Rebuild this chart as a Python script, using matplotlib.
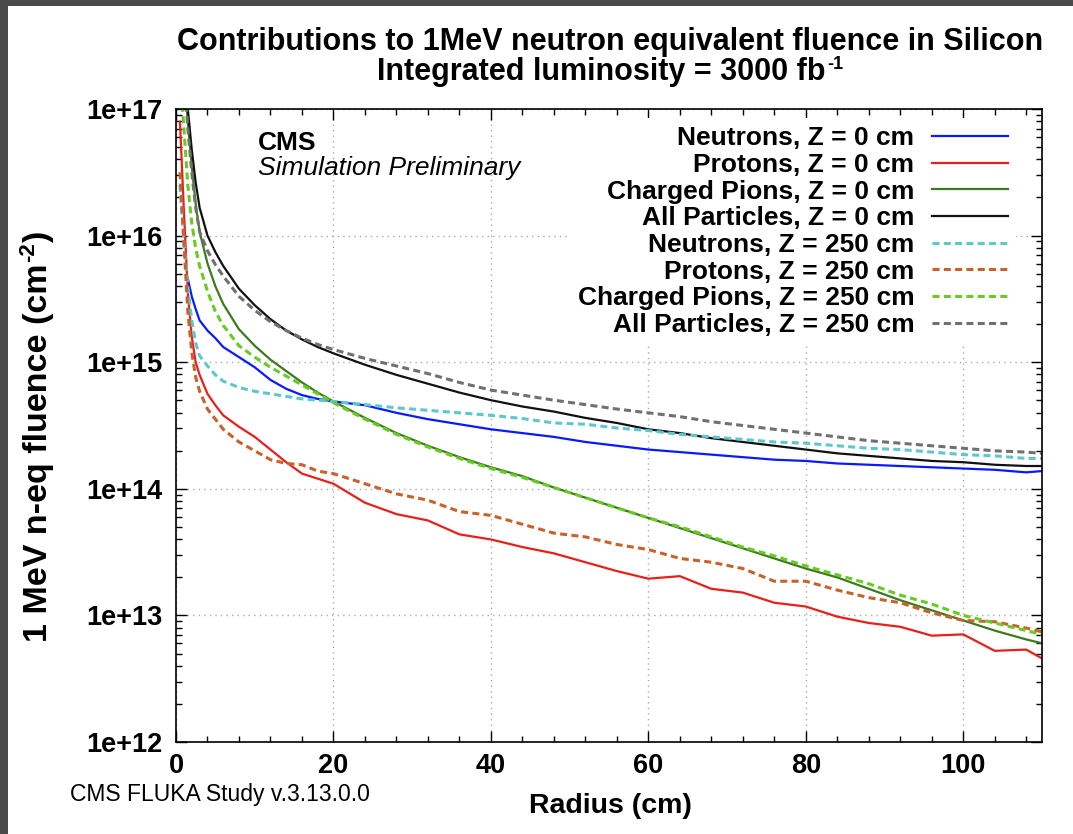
import numpy as np
import matplotlib
matplotlib.use("Agg")
import matplotlib.pyplot as plt
from matplotlib.patches import Rectangle
from matplotlib.ticker import FixedLocator, LogLocator, MultipleLocator, NullFormatter, FuncFormatter

# radius (cm) sampling shared by all curves
radius = [0.5, 1, 1.5, 2, 2.5, 3, 4, 5, 6, 8, 10, 12, 14, 16, 18, 20, 24, 28, 32, 36, 40,
          44, 48, 52, 56, 60, 64, 68, 72, 76, 80, 84, 88, 92, 96, 100, 104, 108, 110]

# log10 of fluence (cm^-2); nan = no point drawn
nan = np.nan
log_neutrons_z0 = [nan, nan, 15.66, 15.52, 15.42, 15.33, 15.25, 15.19, 15.12, 15.04, 14.96,
                   14.86, 14.79, 14.74, 14.71, 14.69, 14.66, 14.60, 14.55, 14.51, 14.47, 14.44,
                   14.41, 14.37, 14.34, 14.31, 14.29, 14.27, 14.25, 14.23, 14.22, 14.20, 14.19,
                   14.18, 14.17, 14.16, 14.15, 14.13, 14.14]
log_protons_z0 = [16.9, 16.2, 15.55, 15.2, 15.0, 14.9, 14.75, 14.66, 14.58, 14.49, 14.41,
                  14.31, 14.21, 14.12, 14.08, 14.04, 13.89, 13.80, 13.75, 13.64, 13.60, 13.54,
                  13.49, 13.42, 13.35, 13.29, 13.31, 13.21, 13.18, 13.10, 13.07, 12.99, 12.94,
                  12.91, 12.84, 12.85, 12.72, 12.73, 12.66]
log_pions_z0 = [nan, 17.3, 16.9, 16.55, 16.25, 16.03, 15.78, 15.6, 15.46, 15.26, 15.13, 15.02,
                14.93, 14.84, 14.76, 14.69, 14.56, 14.44, 14.34, 14.25, 14.17, 14.10, 14.01,
                13.93, 13.85, 13.77, 13.69, 13.61, 13.53, 13.45, 13.37, 13.30, 13.21, 13.12,
                13.04, 12.96, 12.88, 12.81, 12.78]
log_all_z0 = [nan, 17.5, 17.0, 16.68, 16.42, 16.22, 16.0, 15.87, 15.76, 15.58, 15.45, 15.34,
              15.25, 15.18, 15.12, 15.07, 14.98, 14.90, 14.83, 14.76, 14.70, 14.65, 14.61,
              14.56, 14.52, 14.47, 14.44, 14.40, 14.37, 14.34, 14.31, 14.28, 14.26, 14.24,
              14.22, 14.21, 14.19, 14.18, 14.18]
log_neutrons_z250 = [16.4, 15.95, 15.6, 15.33, 15.15, 15.05, 14.97, 14.90, 14.85, 14.80, 14.77,
                     14.75, 14.73, 14.71, 14.70, 14.69, 14.665, 14.64, 14.62, 14.60, 14.58,
                     14.555, 14.52, 14.51, 14.48, 14.46, 14.43, 14.41, 14.39, 14.37, 14.36,
                     14.34, 14.32, 14.31, 14.29, 14.27, 14.26, 14.24, 14.24]
log_protons_z250 = [16.5, 15.95, 15.4, 15.08, 14.88, 14.77, 14.63, 14.55, 14.47, 14.37, 14.30,
                    14.23, 14.20, 14.19, 14.14, 14.12, 14.04, 13.96, 13.91, 13.82, 13.79, 13.72,
                    13.65, 13.62, 13.56, 13.52, 13.45, 13.42, 13.37, 13.27, 13.27, 13.20, 13.14,
                    13.10, 13.02, 12.96, 12.95, 12.90, 12.87]
log_pions_z250 = [17.3, 16.85, 16.4, 16.1, 15.9, 15.76, 15.56, 15.40, 15.29, 15.13, 15.04,
                  14.96, 14.89, 14.82, 14.75, 14.68, 14.55, 14.43, 14.33, 14.24, 14.16, 14.09,
                  14.01, 13.93, 13.85, 13.77, 13.70, 13.62, 13.54, 13.47, 13.39, 13.32, 13.25,
                  13.16, 13.09, 13.00, 12.94, 12.88, 12.85]
log_all_z250 = [nan, 17.3, 16.85, 16.5, 16.22, 16.03, 15.88, 15.77, 15.68, 15.52, 15.41, 15.32,
                15.25, 15.19, 15.14, 15.10, 15.03, 14.97, 14.91, 14.84, 14.78, 14.74, 14.70,
                14.665, 14.63, 14.60, 14.57, 14.53, 14.50, 14.47, 14.44, 14.41, 14.38, 14.36,
                14.34, 14.32, 14.30, 14.29, 14.28]

labels = ["Neutrons, Z = 0 cm", "Protons, Z = 0 cm", "Charged Pions, Z = 0 cm",
          "All Particles, Z = 0 cm", "Neutrons, Z = 250 cm", "Protons, Z = 250 cm",
          "Charged Pions, Z = 250 cm", "All Particles, Z = 250 cm"]
series = [log_neutrons_z0, log_protons_z0, log_pions_z0, log_all_z0,
          log_neutrons_z250, log_protons_z250, log_pions_z250, log_all_z250]
colors = ["#0a1aff", "#e8201c", "#3d7a1f", "#111111",
          "#5cc8cc", "#c8622a", "#66cc22", "#707070"]

plt.rcParams['font.family'] = ['Liberation Sans', 'DejaVu Sans']

W, H = 1073, 834
fig = plt.figure(figsize=(W / 100, H / 100), dpi=100, facecolor='#4a4a4a')
fig.add_artist(Rectangle((8 / W, 0), 1, 1 - 6 / H, transform=fig.transFigure,
                         facecolor='white', edgecolor='none', zorder=-1))

ax = fig.add_axes([176 / W, 92 / H, 866 / W, 633 / H])

x = np.array(radius)
for vals, lab, col in zip(series, labels, colors):
    y = 10 ** np.array(vals, dtype=float)
    if "250" in lab:
        ax.plot(x, y, color=col, lw=2.2, ls=(0, (2.3, 1.4)), label=lab)
    else:
        ax.plot(x, y, color=col, lw=1.6, label=lab)

ax.set_yscale('log')
ax.set_xlim(0, 110)
ax.set_ylim(1e12, 1e17)
ax.yaxis.set_major_locator(FixedLocator([1e12, 1e13, 1e14, 1e15, 1e16, 1e17]))
ax.yaxis.set_major_formatter(FuncFormatter(lambda v, p: "1e+%d" % round(np.log10(v))))
ax.yaxis.set_minor_locator(LogLocator(base=10, subs=np.arange(2, 10)))
ax.yaxis.set_minor_formatter(NullFormatter())
ax.xaxis.set_major_locator(MultipleLocator(20))
ax.xaxis.set_minor_locator(MultipleLocator(4))

ax.tick_params(which='both', direction='in', top=True, right=True, width=1)
ax.tick_params(which='major', length=8)
ax.tick_params(which='minor', length=4)
ax.tick_params(axis='y', pad=10, labelsize=19.5)
ax.tick_params(axis='x', pad=8, labelsize=19.5)
for t in ax.get_xticklabels() + ax.get_yticklabels():
    t.set_fontweight('bold')
for s in ax.spines.values():
    s.set_linewidth(1.2)

ax.grid(True, which='major', color='#aaaaaa', lw=1, ls=(0, (1, 3)))

leg = ax.legend(loc='upper right', bbox_to_anchor=(0.97, 0.985), markerfirst=False,
                prop={'weight': 'bold', 'size': 19},
                handlelength=2.9, handletextpad=0.65, labelspacing=0.1,
                borderpad=0.3, borderaxespad=0, frameon=True, fancybox=False)
leg.get_frame().set_facecolor('white')
leg.get_frame().set_edgecolor('none')
leg.get_frame().set_alpha(1)

ax.text(0.095, 0.946, "CMS", transform=ax.transAxes, fontsize=19, fontweight='bold',
        va='center', ha='left')
ax.text(0.095, 0.907, "Simulation Preliminary", transform=ax.transAxes, fontsize=19,
        style='italic', va='center', ha='left')

fig.text(610 / W, 1 - 50 / H, "Contributions to 1MeV neutron equivalent fluence in Silicon",
         ha='center', va='baseline', fontsize=22, fontweight='bold')

fig.text(610 / W, 1 - 806 / H, "Radius (cm)", ha='center', va='center',
         fontsize=20.5, fontweight='bold')
fig.text(70 / W, 1 - 795 / H, "CMS FLUKA Study v.3.13.0.0", ha='left', va='center',
         fontsize=16.5)

# texts with a small "-n" superscript, placed piece by piece
fig.canvas.draw()
rend = fig.canvas.get_renderer()

# second title line, centred on x = 610 px, baseline at y = 80 px
t_main = fig.text(0, 0, "Integrated luminosity = 3000 fb", ha='left', va='baseline',
                  fontsize=22, fontweight='bold')
t_sup = fig.text(0, 0, "-1", ha='left', va='baseline', fontsize=13, fontweight='bold')
w1 = t_main.get_window_extent(rend).width
w2 = t_sup.get_window_extent(rend).width
x0 = 610 - (w1 + w2 + 2) / 2
t_main.set_position((x0 / W, 1 - 80 / H))
t_sup.set_position(((x0 + w1 + 2) / W, 1 - 69 / H))

# rotated y label, reading upwards from y = 642 px, baseline at x = 47 px
ylab_kw = dict(rotation=90, rotation_mode='anchor', ha='left', va='baseline', fontweight='bold')
base_x, start_y = 47, H - 642
p1 = fig.text(base_x / W, start_y / H, "1 MeV n-eq fluence (cm", fontsize=24.5, **ylab_kw)
l1 = p1.get_window_extent(rend).height
p2 = fig.text((base_x - 13) / W, (start_y + l1 + 1) / H, "-2", fontsize=16, **ylab_kw)
l2 = p2.get_window_extent(rend).height
fig.text(base_x / W, (start_y + l1 + l2 + 2) / H, ")", fontsize=24.5, **ylab_kw)

fig.savefig("out.png", dpi=100, facecolor=fig.get_facecolor())
